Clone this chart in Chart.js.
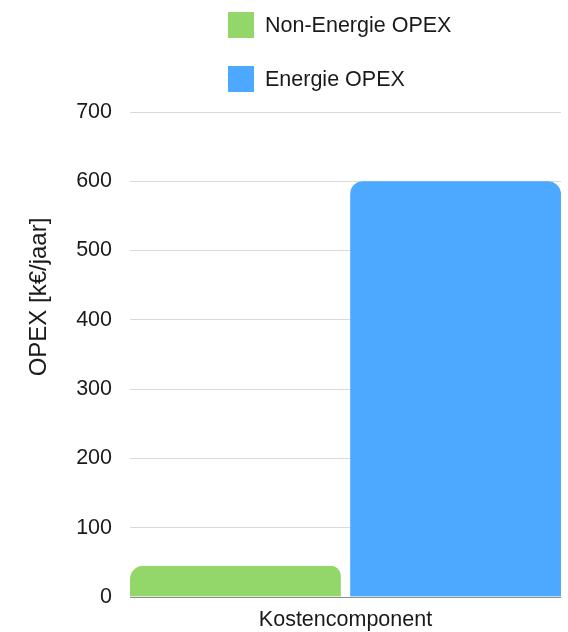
<!DOCTYPE html>
<html>
<head>
<meta charset="utf-8">
<script src="https://cdn.jsdelivr.net/npm/chart.js@4"></script>
<style>
    body { margin: 0; background: #fff; }
    #wrap { width: 568px; height: 632px; }
</style>
</head>
<body>
<div id="wrap"><canvas id="opexChart"></canvas></div>
<script>
// chart data
const categories = ['Kostencomponent'];
const seriesNames = ['Non-Energie OPEX', 'Energie OPEX'];
const nonEnergieValues = [45];
const energieValues = [600];
const yTicks = [0, 100, 200, 300, 400, 500, 600, 700];
const yTitle = 'OPEX [k€/jaar]';

const FONT = '"Liberation Sans", Arial, sans-serif';
const colors = ['#93D76A', '#4DA8FF'];

// legend stacked top, y title drawn by hand (it sits above centre in the original)
const extras = {
    id: 'extras',
    afterDraw(chart) {
        const ctx = chart.ctx;
        ctx.save();
        ctx.font = '21.5px ' + FONT;
        ctx.textBaseline = 'middle';
        chart.data.datasets.forEach((ds, i) => {
            const y = 12 + i * 54;
            ctx.fillStyle = ds.backgroundColor;
            ctx.fillRect(228, y, 26, 26);
            ctx.fillStyle = '#1a1a1a';
            ctx.textAlign = 'left';
            ctx.fillText(ds.label, 265, y + 14);
        });
        ctx.translate(39, 297);
        ctx.rotate(-Math.PI / 2);
        ctx.textAlign = 'center';
        ctx.font = '24px ' + FONT;
        ctx.fillText(yTitle, 0, 0);
        ctx.restore();
    }
};

new Chart(document.getElementById('opexChart'), {
    type: 'bar',
    data: {
        labels: categories,
        datasets: [{
            label: seriesNames[0],
            data: nonEnergieValues,
            backgroundColor: colors[0],
            borderColor: 'rgba(0,0,0,0)',
            borderWidth: { right: 5 },
            borderRadius: { topLeft: 13, topRight: 18 }
        }, {
            label: seriesNames[1],
            data: energieValues,
            backgroundColor: colors[1],
            borderColor: 'rgba(0,0,0,0)',
            borderWidth: { left: 5 },
            borderRadius: { topLeft: 18, topRight: 13 }
        }]
    },
    options: {
        responsive: true,
        maintainAspectRatio: false,
        animation: false,
        layout: { padding: { top: 112, right: 7, left: 0, bottom: 0 } },
        categoryPercentage: 1,
        barPercentage: 1,
        plugins: {
            legend: { display: false },
            tooltip: { enabled: false }
        },
        scales: {
            x: {
                grid: { display: false },
                border: { display: false },
                ticks: { color: '#1a1a1a', font: { family: FONT, size: 21.5 }, padding: 2 },
                afterFit: s => { s.height = 35; }
            },
            y: {
                min: yTicks[0],
                max: yTicks[yTicks.length - 1],
                afterBuildTicks: s => { s.ticks = yTicks.map(v => ({ value: v })); },
                border: { display: false },
                grid: {
                    drawTicks: false,
                    color: c => c.tick.value === 0 ? '#8c8c8c' : '#dadada',
                    lineWidth: 1
                },
                ticks: { color: '#1a1a1a', font: { family: FONT, size: 21.5 }, padding: 18 },
                afterFit: s => { s.width = 130; }
            }
        }
    },
    plugins: [extras]
});
</script>
</body>
</html>
